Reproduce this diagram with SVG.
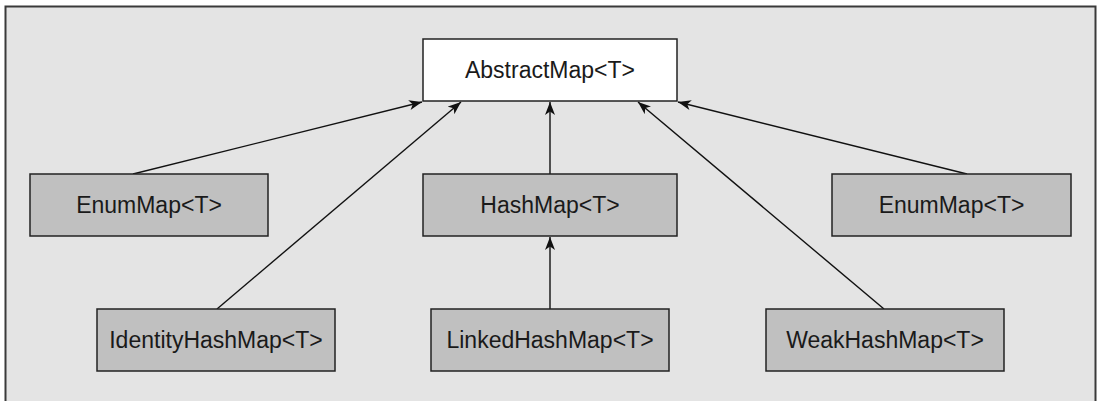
<svg xmlns="http://www.w3.org/2000/svg" width="1099" height="401" viewBox="0 0 1099 401">
<style>
.frame{fill:#e4e4e4;stroke:#3a3a3a;stroke-width:2}
.box{fill:#c0c0c0;stroke:#222;stroke-width:1.5}
.root{fill:#ffffff;stroke:#222;stroke-width:1.5}
.lbl{font-family:"Liberation Sans",Arial,sans-serif;font-size:23px;fill:#1a1a1a;text-anchor:middle}
.edge{stroke:#111;stroke-width:1.4;fill:none;marker-end:url(#arr)}
</style>
<defs>
<marker id="arr" viewBox="-13 -6 14 12" refX="0" refY="0" markerWidth="14" markerHeight="12" markerUnits="userSpaceOnUse" orient="auto">
<path d="M0,0 L-13,-5 L-9.5,0 L-13,5 Z" fill="#111"/>
</marker>
</defs>
<rect class="frame" x="5.5" y="6.5" width="1090" height="400"/>
<g id="connectors">
<line class="edge" x1="133" y1="174" x2="422" y2="102"/>
<line class="edge" x1="217" y1="309" x2="461" y2="102"/>
<line class="edge" x1="550" y1="174" x2="550" y2="102"/>
<line class="edge" x1="550" y1="309" x2="550" y2="237"/>
<line class="edge" x1="884" y1="309" x2="638" y2="102"/>
<line class="edge" x1="967" y1="174" x2="678" y2="102"/>
</g>
<g id="abstractmap">
<rect class="root" x="423" y="39" width="254" height="62"/>
<text class="lbl" x="550" y="78">AbstractMap&lt;T&gt;</text>
</g>
<g id="enummap-left">
<rect class="box" x="30" y="174" width="238" height="62"/>
<text class="lbl" x="149" y="213">EnumMap&lt;T&gt;</text>
</g>
<g id="hashmap">
<rect class="box" x="423" y="174" width="254" height="62"/>
<text class="lbl" x="550" y="213">HashMap&lt;T&gt;</text>
</g>
<g id="enummap-right">
<rect class="box" x="832" y="174" width="239" height="62"/>
<text class="lbl" x="951.5" y="213">EnumMap&lt;T&gt;</text>
</g>
<g id="identityhashmap">
<rect class="box" x="97" y="309" width="238" height="62"/>
<text class="lbl" x="216" y="348">IdentityHashMap&lt;T&gt;</text>
</g>
<g id="linkedhashmap">
<rect class="box" x="431" y="309" width="238" height="62"/>
<text class="lbl" x="550" y="348">LinkedHashMap&lt;T&gt;</text>
</g>
<g id="weakhashmap">
<rect class="box" x="766" y="309" width="238" height="62"/>
<text class="lbl" x="885" y="348">WeakHashMap&lt;T&gt;</text>
</g>
</svg>
